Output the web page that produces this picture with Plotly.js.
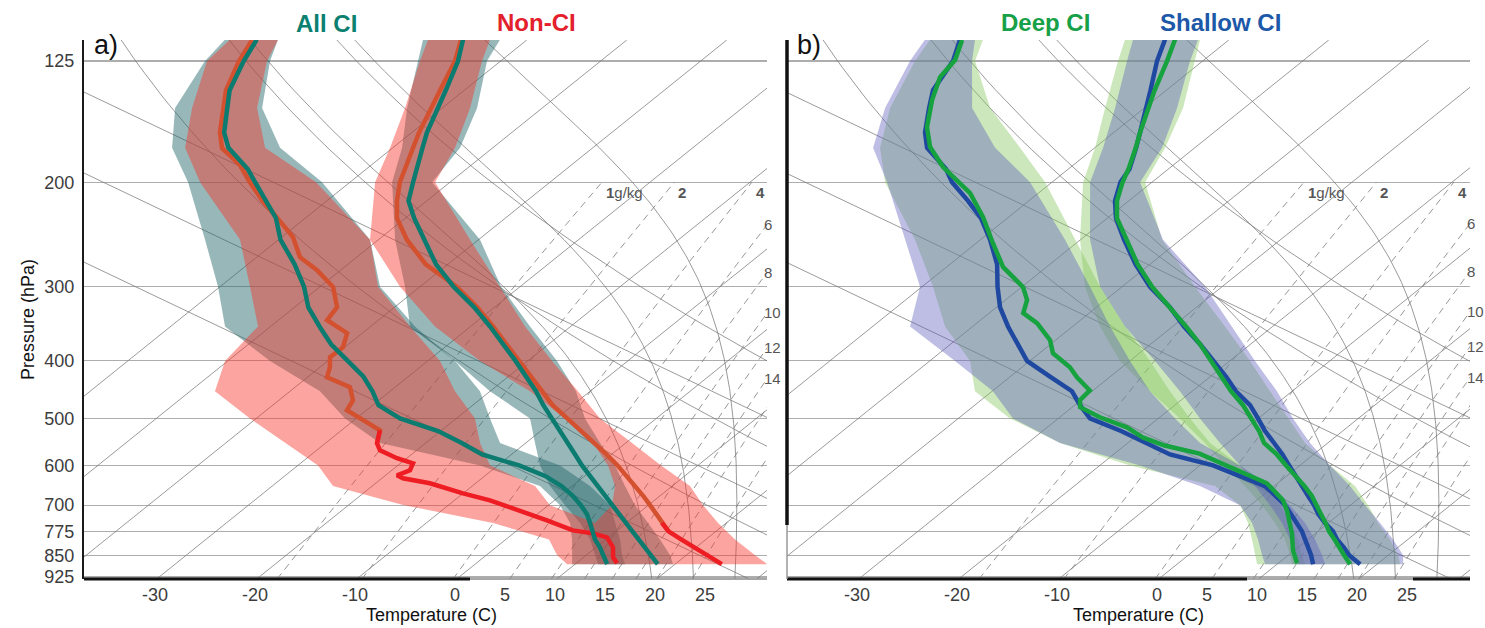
<!DOCTYPE html>
<html>
<head>
<meta charset="utf-8">
<script src="https://cdn.plot.ly/plotly-3.0.1.min.js"></script>
<style>
html,body{margin:0;padding:0;background:#ffffff;}
#chart{width:1485px;height:628px;}
</style>
</head>
<body>
<div id="chart"></div>
<script>
// ================= DATA (temperatures in deg C, pressures in hPa) =================
const P_LEV = [115,125,140,150,165,175,190,200,215,230,250,275,300,325,350,375,400,425,450,475,500,525,550,575,600,625,650,675,700,725,750,775,800,825,850,880];

// Panel a) All CI (teal) and Non-CI (red)
const ALL_T  = [-66.43,-64.26,-61.85,-60.4,-58.47,-57.03,-55.01,-53.69,-51.83,-49.1,-45.41,-41.19,-36.64,-32.01,-28.06,-24.51,-21.23,-18.24,-15.41,-12.94,-10.42,-8.01,-5.77,-3.64,-1.59,0.5,2.53,4.49,6.38,8.19,9.96,11.66,13.31,14.9,16.47,18.26];
const NON_T  = [-66.63,-64.56,-62.42,-61.11,-59.26,-57.97,-56.19,-55.01,-52.98,-50.82,-47.16,-42.22,-36.34,-31.71,-27.76,-24.21,-20.93,-17.84,-14.91,-12.01,-8.91,-5.95,-3.15,-0.5,1.97,4.2,6.31,8.3,10.16,11.88,13.55,15.27,17.59,19.84,22.14,24.67];
const ALL_TD = [-87.06,-85.69,-83.47,-81.45,-78.75,-76.43,-71.87,-69.49,-66.13,-62.92,-59.8,-55.33,-51.6,-48.6,-45.11,-41.74,-38.01,-34.51,-31.76,-29.42,-25.63,-20.26,-16.4,-12.95,-7.88,-3.97,-1.07,1.26,3.24,4.98,6.37,7.67,8.94,10.42,11.74,13.2];
const NON_TD_P = [115.2,125,139.9,150,164.7,175.2,187.2,200,214.4,227.3,247.5,267.5,281.3,300.4,316,324.7,341.5,359.2,379.3,394.3,410,426.2,443,466,484.4,503.6,523.5,550.6,565.8,583.6,595.1,611.5,623.4,630.7,643.1,668.6,687,714.2,742.5,771.9,780.9,793.1,824.5,856.9,877.1];
const NON_TD   = [-87.47,-86.16,-83.85,-81.91,-79.23,-77.04,-73.12,-70.01,-66.57,-63.4,-58.87,-55.68,-52.36,-48.65,-46.83,-45.76,-45.14,-41.52,-40.18,-40.24,-39.0,-38.05,-34.51,-32.59,-31.95,-29.1,-26.16,-24.84,-23.67,-20.98,-18.75,-18.18,-18.86,-17.89,-14.57,-10.02,-6.45,-2.21,1.74,5.58,7.95,9.85,11.7,12.94,14.09];

// Panel b) Deep CI (green) and Shallow CI (blue)
const SHAL_T  = [-66.43,-64.56,-61.58,-59.76,-57.36,-55.87,-53.89,-53.15,-51.38,-49.12,-45.64,-41.43,-37.2,-32.63,-28.86,-25.04,-21.68,-18.44,-15.61,-12.47,-10.03,-7.76,-5.37,-3.1,-1.08,0.83,2.78,4.59,6.36,7.93,9.67,11.52,12.94,14.62,16.09,18.3];
const DEEP_T  = [-65.43,-63.56,-61.17,-59.61,-57.36,-55.9,-53.99,-52.94,-51.18,-49.02,-45.39,-41.23,-37.0,-32.63,-28.66,-25.04,-21.88,-18.84,-16.11,-13.17,-10.73,-8.36,-6.37,-3.67,-1.38,0.9,3.03,4.96,6.56,8.18,9.72,11.12,12.69,14.12,15.59,17.3];
const SHAL_TD = [-86.93,-84.96,-83.33,-81.51,-78.86,-76.77,-72.24,-69.99,-66.08,-62.62,-59.04,-55.28,-52.45,-49.63,-46.46,-43.24,-40.28,-36.04,-32.01,-29.47,-26.83,-22.16,-18.27,-14.35,-8.68,-4.71,-0.94,1.34,3.46,5.18,6.87,8.42,9.74,11.02,12.29,13.6];
const DEEP_TD_P = [115.2,124.5,133,145.4,161.5,174.5,188.6,198.3,208.6,229,253.4,278,300.4,316,332.2,345.5,369.1,388.3,410,426.2,448.6,466,478.6,497.8,517.6,538.3,555.5,573.2,605.8,643.1,687,714.2,780.9,834,877.1];
const DEEP_TD   = [-86.67,-84.88,-84.27,-82.21,-79.35,-76.56,-72.77,-69.76,-66.84,-62.55,-58.32,-54.33,-49.85,-47.83,-46.61,-43.97,-40.55,-38.64,-35.2,-33.25,-30.33,-30.09,-29.22,-25.98,-22.03,-19.19,-15.99,-11.5,-6.46,-1.07,2.65,4.29,7.65,9.87,11.89];

// Spread bands (lower / upper edge), shared pressure levels
const P_BAND = [115,125,150,175,200,250,300,350,400,450,500,550,600,650,700,750,800,850,880];
const ALL_TD_LO = [-90.23,-89.56,-86.71,-82.07,-76.19,-67.34,-60.2,-54.56,-45.78,-37.01,-31.13,-24.57,-11.78,-3.22,1.16,4.37,6.64,8.59,9.7];
const ALL_TD_HI = [-84.93,-83.06,-78.01,-71.27,-62.79,-50.84,-44.0,-35.56,-27.28,-21.01,-16.63,-12.57,-3.78,1.78,6.16,8.87,11.44,13.59,15.0];
const ALL_T_LO  = [-70.43,-68.26,-63.51,-59.07,-55.79,-48.34,-41.5,-36.06,-27.28,-20.01,-12.63,-9.07,-5.78,-2.22,1.66,5.37,8.44,10.89,12.3];
const ALL_T_HI  = [-62.73,-61.36,-56.51,-53.27,-51.79,-39.84,-31.9,-24.06,-17.08,-11.41,-7.13,-2.57,1.72,5.28,8.66,12.17,15.44,18.39,19.8];
const NON_TD_LO = [-89.73,-89.36,-85.01,-80.77,-74.99,-63.84,-57.0,-51.26,-50.28,-47.51,-40.63,-34.07,-27.98,-23.92,-14.44,-3.33,4.34,7.09,9.2];
const NON_TD_HI = [-84.93,-83.36,-78.51,-72.77,-63.39,-50.84,-44.2,-36.06,-28.78,-23.51,-18.13,-14.57,-10.78,-3.72,0.16,6.87,9.44,11.89,13.5];
const NON_T_LO  = [-69.93,-68.06,-63.71,-60.27,-57.49,-50.84,-42.0,-33.56,-24.78,-16.01,-9.13,-3.27,1.02,4.28,6.36,6.87,9.44,11.89,13.5];
const NON_T_HI  = [-63.73,-61.86,-57.21,-53.77,-51.49,-40.84,-32.0,-24.56,-17.58,-11.21,-5.63,0.63,6.32,11.78,15.46,19.17,22.94,26.89,29.2];
const SHAL_TD_LO = [-90.43,-89.26,-85.91,-82.17,-76.49,-67.54,-60.2,-56.26,-47.48,-39.91,-34.53,-26.77,-15.98,-7.42,-1.04,2.37,5.04,7.39,8.8];
const SHAL_TD_HI = [-85.43,-83.06,-77.21,-69.97,-62.19,-51.54,-43.2,-36.26,-29.98,-24.21,-18.33,-12.77,-5.98,-0.42,3.96,7.67,10.74,13.39,14.8];
const DEEP_TD_LO = [-89.93,-88.76,-85.41,-81.47,-76.69,-66.54,-58.9,-52.76,-45.98,-41.71,-34.83,-26.77,-16.98,-5.92,-1.04,1.97,4.44,6.69,8.0];
const DEEP_TD_HI = [-84.63,-82.76,-75.41,-67.47,-60.69,-50.54,-42.2,-34.76,-27.98,-22.21,-16.83,-11.77,-5.98,-0.92,2.96,6.17,9.04,11.39,12.8];
const SHAL_T_LO  = [-69.63,-67.56,-62.91,-59.17,-56.19,-49.04,-42.2,-34.76,-27.48,-21.21,-15.83,-10.77,-5.98,-1.92,1.96,5.37,8.24,10.69,12.1];
const SHAL_T_HI  = [-63.13,-61.26,-56.71,-53.27,-51.19,-41.74,-31.7,-24.06,-17.48,-11.51,-6.53,-1.77,3.02,7.58,11.46,15.17,18.54,21.49,22.6];
const DEEP_T_LO  = [-70.43,-68.46,-63.91,-59.97,-56.89,-50.04,-43.7,-37.26,-30.98,-24.21,-17.83,-12.27,-7.48,-2.92,1.16,4.67,7.74,10.19,11.5];
const DEEP_T_HI  = [-62.93,-60.76,-56.11,-52.97,-50.69,-41.84,-32.7,-24.76,-17.98,-12.21,-7.03,-2.27,3.02,8.08,11.76,14.97,18.24,20.99,22.3];

// Axis ticks
const P_TICKS = [125,200,300,400,500,600,700,775,850,925];
const T_TICKS = [-30,-20,-10,0,5,10,15,20,25];

// Skew-T reference line sets
const ISOTHERMS = [-60,-50,-40,-30,-20,-10,0,10,20,30,40];
const DRY_THETA = [320,340,360];
const MOIST_T1000 = [22,26,30];
const STRAIGHT_T1000 = [35.3,54.0,71.0];   // straight guide lines, deg C at 1000 hPa
const STRAIGHT_SLOPE = 198.4;              // deg C per decade of pressure
const MIX_RATIO = [1,2,4,6,8,10,12,14,16,20];
const MIX_LABELED = [1,2,4,6,8,10,12,14];

// ================= GEOMETRY =================
const K_SKEW = 73.8, P_REF = 937;
const P_TOP = 115.2, P_BOT = 932.2;
const X_RANGE_A = [-37.1, 31.2], X_RANGE_B = [-37.0, 31.3];
const FONT = 'Liberation Sans, Arial, Helvetica, sans-serif';

function sx(T, p){ return T + K_SKEW*Math.log10(P_REF/p); }
function logspace(p0,p1,n){ const a=[]; for(let i=0;i<n;i++) a.push(Math.exp(Math.log(p0)+(Math.log(p1)-Math.log(p0))*i/(n-1))); return a; }
function tdFromMix(w,p){ const e=w*p/(622+w); const L=Math.log(e/6.112); return 243.5*L/(17.67-L); }
function gam(T,p){ const es=6.112*Math.exp(17.67*(T-273.15)/(T-29.65)); const rs=0.622*es/(p-es);
  const num=287.04*T+2.501e6*rs; const den=1005.7+2.501e6*2.501e6*rs*0.622/(287.04*T*T); return num/(den*p); }
function moistCurve(T0){ const P=[1000],T=[T0]; let p=1000,t=T0+273.15; const dp=-1;
  while(p>112){ const g1=gam(t,p); const g2=gam(t+g1*dp/2,p+dp/2); t+=g2*dp; p+=dp; if(Math.round(p)%5===0){P.push(p);T.push(t-273.15);} }
  return {P,T}; }

function lineTr(P,T,color,width,ax,dash){
  return {type:'scatter',mode:'lines',x:T.map((t,i)=>sx(t,P[i])),y:P.slice(),xaxis:ax[0],yaxis:ax[1],
    line:{color:color,width:width,dash:dash||'solid'},hoverinfo:'skip',showlegend:false};
}
function bandTr(P,lo,hi,fill,ax){
  const x=lo.map((t,i)=>sx(t,P[i])).concat(hi.map((t,i)=>sx(t,P[i])).reverse());
  const y=P.concat(P.slice().reverse());
  return {type:'scatter',mode:'lines',x:x,y:y,fill:'toself',fillcolor:fill,line:{width:0,color:'rgba(0,0,0,0)'},
    xaxis:ax[0],yaxis:ax[1],hoverinfo:'skip',showlegend:false};
}
function splitLine(P,T,pCut){
  let k=P.findIndex(p=>p>pCut); if(k<1) k=1;
  return {up:{P:P.slice(0,k+1),T:T.slice(0,k+1)}, lo:{P:P.slice(k-1),T:T.slice(k-1)}};
}

const GRID_COL='rgba(115,115,115,0.72)';
function background(ax){
  const out=[];
  for(const T of ISOTHERMS) out.push(lineTr([P_BOT,P_TOP],[T,T],GRID_COL,1,ax));
  const pp=logspace(P_BOT,P_TOP,60);
  for(const th of DRY_THETA) out.push(lineTr(pp,pp.map(p=>th*Math.pow(p/1000,0.2857)-273.15),GRID_COL,1,ax));
  for(const t0 of MOIST_T1000){ const m=moistCurve(t0); out.push(lineTr(m.P,m.T,GRID_COL,1,ax)); }
  for(const t0 of STRAIGHT_T1000) out.push(lineTr([P_BOT,P_TOP],[P_BOT,P_TOP].map(p=>t0+STRAIGHT_SLOPE*Math.log10(p/1000)),GRID_COL,1,ax));
  const pm=logspace(P_BOT,200,30);
  for(const w of MIX_RATIO) out.push(lineTr(pm,pm.map(p=>tdFromMix(w,p)),'rgba(125,125,125,0.8)',1,ax,'7px,5px'));
  return out;
}
function mixLabels(ax, xr){
  const out=[];
  for(const w of MIX_LABELED){
    const xEnd=sx(tdFromMix(w,200),200);
    if(xEnd<xr[1]){
      out.push({xref:ax[0],yref:ax[1],x:xEnd+0.2,y:Math.log10(200),text:(w===1?'<b>1</b>g/kg':'<b>'+w+'</b>'),
        showarrow:false,xanchor:'left',yanchor:'top',font:{family:FONT,size:15,color:'#555'}});
    } else {
      let a=Math.log(200), b=Math.log(P_BOT);
      for(let i=0;i<50;i++){ const m=(a+b)/2; const p=Math.exp(m); if(sx(tdFromMix(w,p),p)>xr[1]) a=m; else b=m; }
      const pe=Math.exp((a+b)/2);
      out.push({xref:ax[0],yref:ax[1],x:xr[1],y:Math.log10(pe),text:String(w),showarrow:false,
        xanchor:'left',yanchor:'middle',xshift:-5,yshift:0,font:{family:FONT,size:15,color:'#555'}});
    }
  }
  return out;
}

// colours
const TEAL='#0c7b70', RED='#ee1d23', RED_DIM='#d4512f', GREEN='#16a33f', BLUE='#1f48a0';
const TEAL_FILL='rgba(40,105,108,0.48)', RED_FILL='rgba(248,55,44,0.45)';
const GREEN_FILL='rgba(130,198,92,0.42)', BLUE_FILL='rgba(92,92,188,0.40)';
const LW=4.5;

const AX_A=['x','y'], AX_B=['x2','y2'];
const traces=[];
traces.push(...background(AX_A));
traces.push(...background(AX_B));

// panel a
traces.push(bandTr(P_BAND,ALL_TD_LO,ALL_TD_HI,TEAL_FILL,AX_A));
traces.push(bandTr(P_BAND,ALL_T_LO,ALL_T_HI,TEAL_FILL,AX_A));
traces.push(bandTr(P_BAND,NON_TD_LO,NON_TD_HI,RED_FILL,AX_A));
traces.push(bandTr(P_BAND,NON_T_LO,NON_T_HI,RED_FILL,AX_A));
const nT=splitLine(P_LEV,NON_T,770), nD=splitLine(NON_TD_P,NON_TD,540);
traces.push(lineTr(nT.up.P,nT.up.T,RED_DIM,LW,AX_A));
traces.push(lineTr(nT.lo.P,nT.lo.T,RED,LW,AX_A));
traces.push(lineTr(nD.up.P,nD.up.T,RED_DIM,LW,AX_A));
traces.push(lineTr(nD.lo.P,nD.lo.T,RED,LW,AX_A));
traces.push(lineTr(P_LEV,ALL_TD,TEAL,LW,AX_A));
traces.push(lineTr(P_LEV,ALL_T,TEAL,LW,AX_A));

// panel b
traces.push(bandTr(P_BAND,DEEP_TD_LO,DEEP_TD_HI,GREEN_FILL,AX_B));
traces.push(bandTr(P_BAND,DEEP_T_LO,DEEP_T_HI,GREEN_FILL,AX_B));
traces.push(bandTr(P_BAND,SHAL_TD_LO,SHAL_TD_HI,BLUE_FILL,AX_B));
traces.push(bandTr(P_BAND,SHAL_T_LO,SHAL_T_HI,BLUE_FILL,AX_B));
traces.push(lineTr(P_LEV,SHAL_TD,BLUE,LW,AX_B));
traces.push(lineTr(P_LEV,SHAL_T,BLUE,LW,AX_B));
traces.push(lineTr(DEEP_TD_P,DEEP_TD,GREEN,LW,AX_B));
traces.push(lineTr(P_LEV,DEEP_T,GREEN,LW,AX_B));

// ================= LAYOUT =================
const W=1485, PT=40, PB=579;
const px2x = v => v/W;
const py2y = v => (PB-v)/(PB-PT);
const tickFont={family:FONT,size:18,color:'#3c3c3c'};
function yAxis(anchor, labels){
  return {type:'log',range:[Math.log10(P_BOT),Math.log10(P_TOP)],domain:[0,1],anchor:anchor,
    tickvals:P_TICKS,ticktext:P_TICKS.map(String),showticklabels:labels,ticks:'',tickfont:tickFont,
    showgrid:true,gridcolor:'#adadad',gridwidth:1.2,zeroline:false,
    showline:labels,linecolor:'#1a1a1a',linewidth:2,ticklabelstandoff:4,fixedrange:true};
}
function xAxis(dom, rng, anchor){
  return {domain:dom,range:rng,anchor:anchor,tickvals:T_TICKS,ticktext:T_TICKS.map(String),ticks:'',
    tickfont:tickFont,showgrid:false,zeroline:false,showline:false,fixedrange:true,ticklabelstandoff:3};
}

const ann=[];
function txt(text,px,py,size,color,bold,extra){
  ann.push(Object.assign({xref:'paper',yref:'paper',x:px2x(px),y:py2y(py),text:bold?'<b>'+text+'</b>':text,
    showarrow:false,xanchor:'center',yanchor:'middle',font:{family:FONT,size:size,color:color}},extra||{}));
}
txt('All CI',326,24,24,'#0b7f70',true);
txt('Non-CI',536,22,24,'#e3202b',true);
txt('Deep CI',1045,22,24,'#17a047',true);
txt('Shallow CI',1220,22,24,'#1d58a8',true);
txt('a)',92,45,27,'#111',false,{xanchor:'left'});
txt('b)',795,45,27,'#111',false,{xanchor:'left'});
txt('Pressure (hPa)',28,320,18,'#111',false,{textangle:-90});
txt('Temperature (C)',431,615,18,'#111',false);
txt('Temperature (C)',1138,615,18,'#111',false);
ann.push(...mixLabels(AX_A,X_RANGE_A));
ann.push(...mixLabels(AX_B,X_RANGE_B));

const shapes=[
  {type:'line',xref:'paper',yref:'paper',x0:px2x(84),x1:px2x(767),y0:0,y1:0,line:{color:'#8a8a8a',width:1.5}},
  {type:'line',xref:'paper',yref:'paper',x0:px2x(84),x1:px2x(470),y0:0,y1:0,line:{color:'#111',width:3}},
  {type:'line',xref:'paper',yref:'paper',x0:px2x(787),x1:px2x(1470),y0:0,y1:0,line:{color:'#8a8a8a',width:1.5}},
  {type:'line',xref:'paper',yref:'paper',x0:px2x(787),x1:px2x(1247),y0:0,y1:0,line:{color:'#111',width:3}},
  {type:'line',xref:'paper',yref:'paper',x0:px2x(1413),x1:px2x(1470),y0:0,y1:0,line:{color:'#111',width:3}},
  {type:'line',xref:'paper',yref:'paper',x0:px2x(787),x1:px2x(787),y0:py2y(525),y1:1,line:{color:'#111',width:3.5}},
  {type:'line',xref:'paper',yref:'paper',x0:px2x(787),x1:px2x(787),y0:0,y1:py2y(525),line:{color:'#999',width:1.5}}
];

const layout={
  width:1485,height:628,margin:{l:0,r:0,t:PT,b:628-PB,pad:0},
  paper_bgcolor:'#ffffff',plot_bgcolor:'rgba(0,0,0,0)',showlegend:false,hovermode:false,
  xaxis:xAxis([px2x(84),px2x(767)],X_RANGE_A,'y'),
  yaxis:yAxis('x',true),
  xaxis2:xAxis([px2x(787),px2x(1470)],X_RANGE_B,'y2'),
  yaxis2:yAxis('x2',false),
  annotations:ann,shapes:shapes
};
Plotly.newPlot('chart',traces,layout,{staticPlot:true,displayModeBar:false});
</script>
</body>
</html>
